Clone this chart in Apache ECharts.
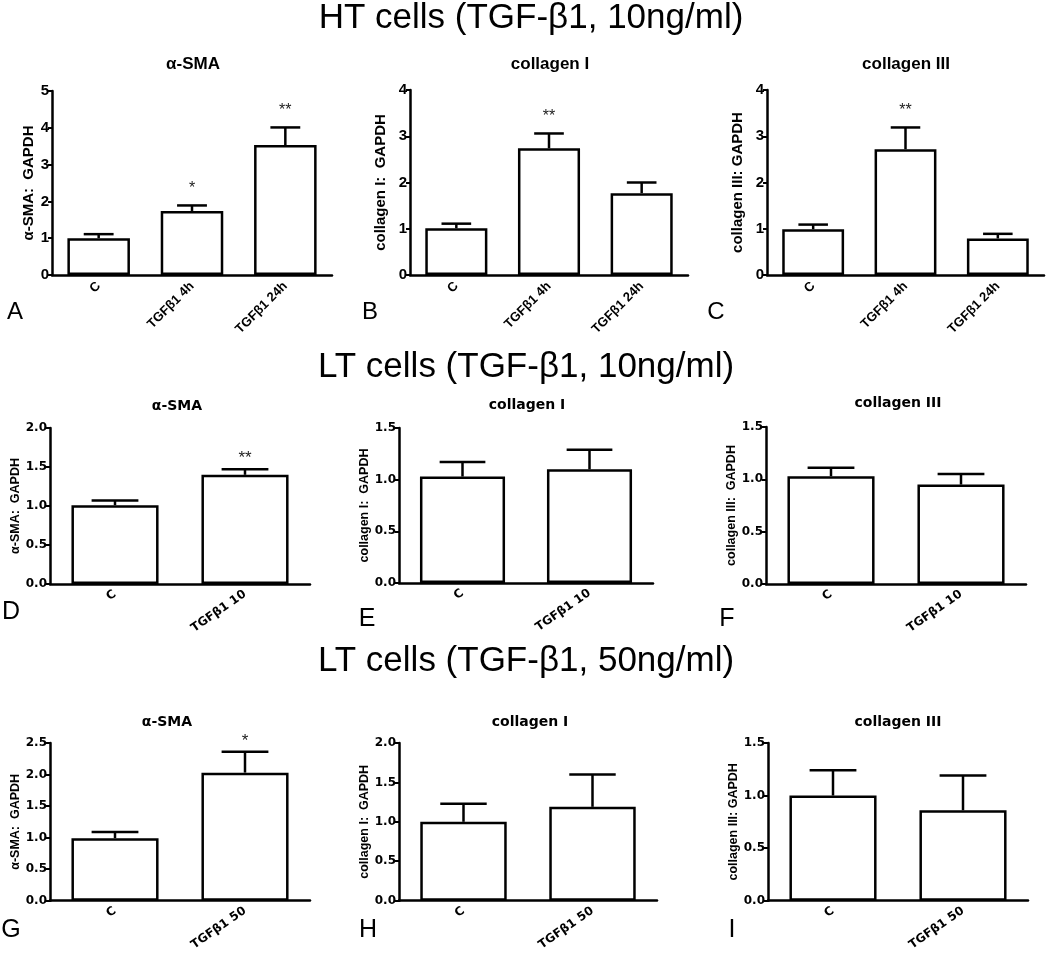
<!DOCTYPE html>
<html>
<head>
<meta charset="utf-8">
<script src="https://cdn.jsdelivr.net/npm/echarts@6/dist/echarts.min.js"></script>
<style>
html,body{margin:0;padding:0;background:#fff;}
#chart{width:1050px;height:953px;}
</style>
</head>
<body>
<div id="chart"></div>
<script>
// ---------------- data ----------------
const htCats = ['C', 'TGFβ1 4h', 'TGFβ1 24h'];
const lt10Cats = ['C', 'TGFβ1 10'];
const lt50Cats = ['C', 'TGFβ1 50'];

const htSmaMean = [1.00, 1.74, 3.53];
const htSmaErr  = [1.11, 1.89, 4.01];
const htSmaSig  = ['', '*', '**'];

const htCol1Mean = [1.01, 2.74, 1.77];
const htCol1Err  = [1.11, 3.06, 2.00];
const htCol1Sig  = ['', '**', ''];

const htCol3Mean = [0.99, 2.72, 0.79];
const htCol3Err  = [1.09, 3.19, 0.89];
const htCol3Sig  = ['', '**', ''];

const lt10SmaMean = [1.01, 1.40];
const lt10SmaErr  = [1.07, 1.47];
const lt10SmaSig  = ['', '**'];

const lt10Col1Mean = [1.03, 1.10];
const lt10Col1Err  = [1.17, 1.29];
const lt10Col1Sig  = ['', ''];

const lt10Col3Mean = [1.03, 0.95];
const lt10Col3Err  = [1.11, 1.05];
const lt10Col3Sig  = ['', ''];

const lt50SmaMean = [0.99, 2.03];
const lt50SmaErr  = [1.09, 2.36];
const lt50SmaSig  = ['', '*'];

const lt50Col1Mean = [1.00, 1.19];
const lt50Col1Err  = [1.23, 1.60];
const lt50Col1Sig  = ['', ''];

const lt50Col3Mean = [1.00, 0.86];
const lt50Col3Err  = [1.24, 1.19];
const lt50Col3Sig  = ['', ''];

// y-axis scales (max, step)
const yMax  = [5, 4, 4, 2.0, 1.5, 1.5, 2.5, 2.0, 1.5];
const yStep = [1, 1, 1, 0.5, 0.5, 0.5, 0.5, 0.5, 0.5];

const panelTitles = ['α-SMA', 'collagen I', 'collagen III', 'α-SMA', 'collagen I', 'collagen III', 'α-SMA', 'collagen I', 'collagen III'];
const yNames = ['α-SMA:  GAPDH', 'collagen I:  GAPDH', 'collagen III: GAPDH',
                'α-SMA:  GAPDH', 'collagen I:  GAPDH', 'collagen III:  GAPDH',
                'α-SMA:  GAPDH', 'collagen I:  GAPDH', 'collagen III: GAPDH'];
const panelLetters = ['A','B','C','D','E','F','G','H','I'];
const mainTitles = ['HT cells (TGF-β1, 10ng/ml)', 'LT cells (TGF-β1, 10ng/ml)', 'LT cells (TGF-β1, 50ng/ml)'];

const panels = [
  {cats: htCats,  mean: htSmaMean,  err: htSmaErr,  sig: htSmaSig},
  {cats: htCats,  mean: htCol1Mean, err: htCol1Err, sig: htCol1Sig},
  {cats: htCats,  mean: htCol3Mean, err: htCol3Err, sig: htCol3Sig},
  {cats: lt10Cats, mean: lt10SmaMean,  err: lt10SmaErr,  sig: lt10SmaSig},
  {cats: lt10Cats, mean: lt10Col1Mean, err: lt10Col1Err, sig: lt10Col1Sig},
  {cats: lt10Cats, mean: lt10Col3Mean, err: lt10Col3Err, sig: lt10Col3Sig},
  {cats: lt50Cats, mean: lt50SmaMean,  err: lt50SmaErr,  sig: lt50SmaSig},
  {cats: lt50Cats, mean: lt50Col1Mean, err: lt50Col1Err, sig: lt50Col1Sig},
  {cats: lt50Cats, mean: lt50Col3Mean, err: lt50Col3Err, sig: lt50Col3Sig}
];

// ---------------- layout / style ----------------
const gridBoxes = [
  [52, 91, 280, 184], [410, 90, 278, 185], [767, 90, 277, 185],
  [50, 428, 260, 156], [399, 428, 254, 155], [766, 427, 260, 157],
  [50, 743, 260, 158], [399, 743, 258, 158], [768, 743, 260, 158]
];
const titlePos = [[193, 64], [550, 64], [906, 64], [177, 406], [527, 405], [898, 403], [167, 722], [530, 722], [898, 722]];
const letterPos = [[15, 312], [370, 312], [716, 312], [11, 612], [367, 619], [727, 619], [11, 930], [368, 930], [732, 930]];
const mainPos = [[531, 18], [526, 367], [526, 661]];
const nameGaps = [16, 22, 22, 27, 28, 25, 27, 28, 26];

const HT_FONT = '"Liberation Sans", Arial, sans-serif';
const LT_FONT = '"DejaVu Sans", sans-serif';

const grids = [], xAxes = [], yAxes = [], series = [], graphics = [];

function makeRender(sig, isHT) {
  return function (params, api) {
    const ci = api.value(0), v = api.value(1), e = api.value(2);
    const p0 = api.coord([ci, v]);
    const p1 = api.coord([ci, e]);
    const band = api.size([1, 0])[0];
    const half = band * (isHT ? 0.16 : 0.18);
    const st = {stroke: '#000', lineWidth: 2.5};
    const children = [
      {type: 'line', shape: {x1: p0[0], y1: p0[1], x2: p1[0], y2: p1[1]}, style: st},
      {type: 'line', shape: {x1: p1[0] - half, y1: p1[1], x2: p1[0] + half, y2: p1[1]}, style: st}
    ];
    const s = sig[params.dataIndex];
    if (s) {
      children.push({type: 'text', style: {
        text: s, x: p1[0], y: p1[1] - (isHT ? 17 : 11), align: 'center', verticalAlign: 'middle',
        font: (isHT ? '16px ' : '17px ') + HT_FONT, fill: '#222'
      }});
    }
    return {type: 'group', children: children};
  };
}

panels.forEach((p, i) => {
  const isHT = i < 3;
  const b = gridBoxes[i];
  grids.push({left: b[0], top: b[1], width: b[2], height: b[3], containLabel: false});
  xAxes.push({
    type: 'category', gridIndex: i, data: p.cats,
    axisLine: {lineStyle: {color: '#000', width: 2.5}},
    axisTick: {alignWithLabel: true, length: 5, lineStyle: {color: '#000', width: 2}},
    axisLabel: {
      rotate: isHT ? 45 : 35, margin: 9, color: '#000', fontWeight: 'bold',
      fontSize: isHT ? 13 : 12, fontFamily: isHT ? HT_FONT : LT_FONT, interval: 0
    },
    splitLine: {show: false}
  });
  yAxes.push({
    type: 'value', gridIndex: i, min: 0, max: yMax[i], interval: yStep[i],
    name: yNames[i], nameLocation: 'middle', nameGap: nameGaps[i], nameRotate: 90,
    nameTextStyle: {color: '#000', fontWeight: 'bold', fontSize: isHT ? 15 : 12.5, fontFamily: HT_FONT},
    axisLine: {show: true, lineStyle: {color: '#000', width: 2.5}},
    axisTick: {show: true, length: 4, lineStyle: {color: '#000', width: 2}},
    axisLabel: {
      color: '#000', fontWeight: 'bold', margin: 3,
      fontSize: isHT ? 15 : 12, fontFamily: isHT ? HT_FONT : LT_FONT,
      formatter: v => isHT ? String(v) : v.toFixed(1)
    },
    splitLine: {show: false}
  });
  series.push({
    type: 'bar', xAxisIndex: i, yAxisIndex: i, data: p.mean, barWidth: '67%',
    itemStyle: {color: '#fff', borderColor: '#000', borderWidth: 2.5},
    silent: true, animation: false
  });
  series.push({
    type: 'custom', xAxisIndex: i, yAxisIndex: i,
    data: p.mean.map((m, k) => [k, m, p.err[k]]),
    encode: {x: 0, y: [1, 2]},
    renderItem: makeRender(p.sig, isHT), clip: false, z: 5, silent: true, animation: false
  });
  graphics.push({
    type: 'text', x: titlePos[i][0], y: titlePos[i][1],
    style: {text: panelTitles[i], align: 'center', verticalAlign: 'middle',
      font: isHT ? 'bold 17px ' + HT_FONT : 'bold 14px ' + LT_FONT, fill: '#000'}
  });
  graphics.push({
    type: 'text', x: letterPos[i][0], y: letterPos[i][1],
    style: {text: panelLetters[i], align: 'center', verticalAlign: 'middle',
      font: (isHT ? '24px ' : '25px ') + HT_FONT, fill: '#000'}
  });
});

mainTitles.forEach((t, k) => {
  graphics.push({
    type: 'text', x: mainPos[k][0], y: mainPos[k][1],
    style: {text: t, align: 'center', verticalAlign: 'middle', font: '35px ' + HT_FONT, fill: '#000'}
  });
});

const chart = echarts.init(document.getElementById('chart'), null, {renderer: 'canvas'});
chart.setOption({
  backgroundColor: '#fff',
  animation: false,
  grid: grids,
  xAxis: xAxes,
  yAxis: yAxes,
  series: series,
  graphic: graphics
});
</script>
</body>
</html>
